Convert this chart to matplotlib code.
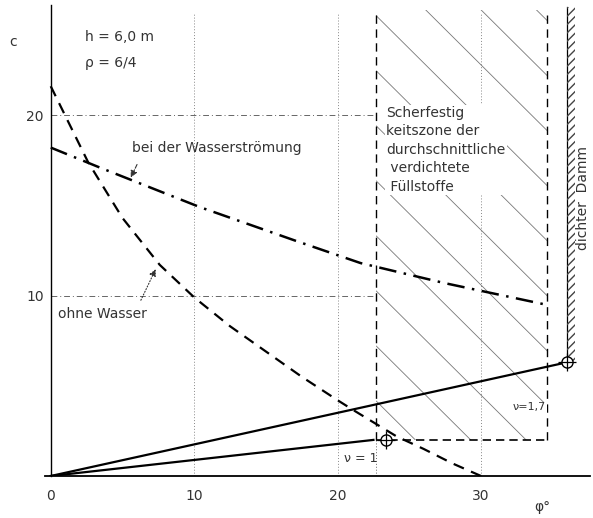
import numpy as np
import matplotlib
matplotlib.use("Agg")
import matplotlib.pyplot as plt
from matplotlib.patches import Rectangle

# ohne Wasser (dashed curve)
phi_dry = [0, 2.6, 5, 7.6, 10, 12.5, 15, 17.5, 20, 21, 24.1, 26, 28, 30]
c_dry = [21.6, 17.4, 14.3, 11.7, 9.9, 8.3, 6.9, 5.5, 4.2, 3.7, 2.2, 1.5, 0.7, 0]

# bei der Wasserströmung (dash-dot curve)
phi_flow = [0, 3.4, 10.4, 17.2, 21.6, 27.4, 34.5]
c_flow = [18.2, 17.1, 14.9, 13.0, 11.8, 10.7, 9.5]

# solid lines nu = 1 and nu = 1.7
phi_nu1 = [0, 22.5]
c_nu1 = [0, 2.0]
phi_nu17 = [0, 36.0]
c_nu17 = [0, 6.3]

# zone of average compacted fill
zone_left, zone_right, zone_bottom, zone_top = 22.7, 34.6, 2.0, 25.8
dam_x, dam_c = 36.0, 6.3
pt_nu1 = (23.4, 2.0)

xticks = [0, 10, 20, 30]
yticks = [10, 20]

txt = '#333333'
fig = plt.figure(figsize=(5.93, 5.18), dpi=100)
ax = fig.add_axes([45 / 593, 42 / 518, 545 / 593, 471 / 518])
ax.set_xlim(-0.4, 37.6)
ax.set_ylim(0, 26.1)

for s in ['top', 'right']:
    ax.spines[s].set_visible(False)
ax.spines['left'].set_position(('data', 0))
ax.spines['left'].set_linewidth(1.0)
ax.spines['bottom'].set_linewidth(1.3)
ax.set_xticks(xticks)
ax.set_yticks(yticks)
ax.tick_params(length=0, labelsize=10, labelcolor=txt)
ax.tick_params(axis='x', pad=9)
ax.tick_params(axis='y', pad=5)

# grid lines
for x in xticks[1:]:
    ax.plot([x, x], [0, 25.6], color='#888888', lw=0.7, ls=(0, (1, 2)), zorder=1)
for y in yticks:
    ax.plot([0, zone_left], [y, y], color='#666666', lw=0.7, ls=(0, (6, 3, 1, 3)), zorder=1)

# hatch lines of the zone
clip = Rectangle((zone_left, zone_bottom), zone_right - zone_left, zone_top - zone_bottom,
                 transform=ax.transData, fill=False, lw=0)
ax.add_patch(clip)
slope = 0.79
xs = np.array([zone_left, zone_right])
for b in np.arange(-5, 38, 3.05):
    ln, = ax.plot(xs, b - slope * (xs - zone_left), color='#777777', lw=0.6, zorder=1)
    ln.set_clip_path(clip)

# zone borders
ax.plot([zone_left, zone_left], [zone_bottom, zone_top], color='black', lw=1.0, ls=(0, (6, 4)), zorder=2)
ax.plot([zone_left, zone_left], [0, zone_bottom], color='#666666', lw=0.7, ls=(0, (1, 2)), zorder=2)
ax.plot([zone_right, zone_right], [zone_bottom, zone_top], color='black', lw=1.0, ls=(0, (6, 4)), zorder=2)
ax.plot([zone_left, zone_right], [zone_bottom, zone_bottom], color='black', lw=1.2, ls=(0, (5, 3)), zorder=2)

# dense dam
ax.plot([dam_x, dam_x], [dam_c, 26.0], color='black', lw=0.9, zorder=2)
ax.add_patch(Rectangle((dam_x, dam_c), 0.55, 26.0 - dam_c, fill=False, lw=0,
                       hatch='////', edgecolor='#444444', zorder=2))

# curves
ax.plot(phi_dry, c_dry, color='black', lw=1.6, ls=(0, (5, 3.5)), zorder=3)
ax.plot(phi_flow, c_flow, color='black', lw=1.8, ls=(0, (7, 3, 1, 3)), zorder=3)
ax.plot(phi_nu1, c_nu1, color='black', lw=1.6, zorder=3)
ax.plot(phi_nu17, c_nu17, color='black', lw=1.6, zorder=3)

for p in [pt_nu1, (dam_x, dam_c)]:
    ax.plot(*p, marker='o', ms=8, mfc='white', mec='black', mew=1.0, zorder=4)
    ax.plot(*p, marker='+', ms=13, color='black', mew=0.9, zorder=5)

# texts
fig.text(13 / 593, 1 - 42 / 518, 'c', fontsize=10, color=txt, ha='center', va='center')
ax.text(2.4, 24.3, 'h = 6,0 m', fontsize=10, color=txt, va='center')
ax.text(2.4, 22.9, 'ρ = 6/4', fontsize=10, color=txt, va='center')
ax.text(5.7, 18.2, 'bei der Wasserströmung', fontsize=10, color=txt, va='center')
ax.text(0.5, 9.0, 'ohne Wasser', fontsize=10, color=txt, va='center')
ax.text(23.4, 20.5, 'Scherfestig\nkeitszone der\ndurchschnittliche\n verdichtete\n Füllstoffe',
        fontsize=10, color=txt, va='top', ha='left', linespacing=1.4, zorder=3,
        bbox=dict(facecolor='white', edgecolor='none', pad=1))
ax.text(37.1, 15.4, 'dichter  Damm', fontsize=10, color=txt, rotation=90,
        ha='center', va='center', clip_on=False)
ax.text(21.6, 0.95, 'ν = 1', fontsize=9, color=txt, ha='center', va='center')
ax.text(33.4, 3.8, 'ν=1,7', fontsize=8, color=txt, ha='center', va='center', zorder=3,
        bbox=dict(facecolor='white', edgecolor='none', pad=0.5))
ax.text(34.3, -1.7, 'φ°', fontsize=10, color=txt, ha='center', va='center', clip_on=False)

ax.annotate('', xy=(5.5, 16.4), xytext=(6.1, 17.4),
            arrowprops=dict(arrowstyle='-|>', color='#333333', lw=0.8, ls='--', mutation_scale=10))
ax.annotate('', xy=(7.4, 11.6), xytext=(6.2, 9.6),
            arrowprops=dict(arrowstyle='-|>', color='#333333', lw=0.8, ls=':', mutation_scale=10))

fig.savefig('out.png', dpi=100)
